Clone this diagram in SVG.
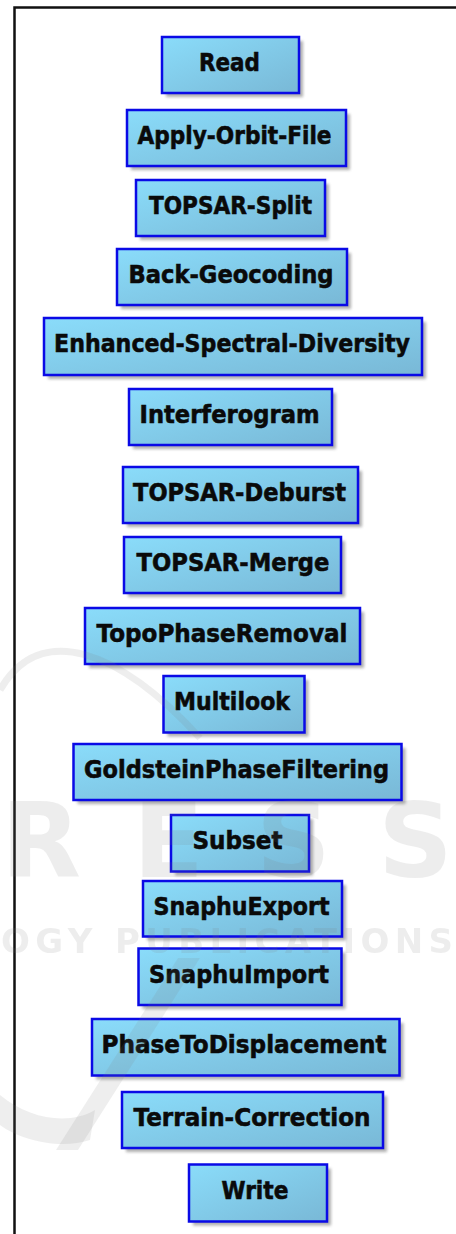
<svg xmlns="http://www.w3.org/2000/svg" width="456" height="1234" viewBox="0 0 456 1234">
  <style>
    .box { fill: url(#nodeFill); stroke: #0a0ae6; stroke-width: 2.5; }
    .shadow { fill: #6e6e6e; opacity: 0.55; filter: url(#soft); }
    .label { font-family: "DejaVu Sans", "Liberation Sans", sans-serif; font-weight: bold; font-size: 25px; fill: #0a0a0a; stroke: #0a0a0a; stroke-width: 0.6; text-anchor: middle; }
    .frame { stroke: #111; stroke-width: 2.5; fill: none; }
    .wm { fill: #7a7a7a; opacity: 0.13; }
    .wmText { font-family: "DejaVu Sans", "Liberation Sans", sans-serif; font-weight: bold; fill: #7a7a7a; opacity: 0.13; }
  </style>
  <defs>
    <linearGradient id="nodeFill" x1="0" y1="0" x2="1" y2="1">
      <stop offset="0" stop-color="#8adcfa"/>
      <stop offset="1" stop-color="#79b8d6"/>
    </linearGradient>
    <filter id="soft" x="-10%" y="-20%" width="120%" height="140%">
      <feGaussianBlur stdDeviation="1.6"/>
    </filter>
  </defs>

  <rect width="456" height="1234" fill="#ffffff"/>

  <!-- panel border: top and left edges -->
  <path class="frame" d="M14.5 1234 V7.5 H456"/>

  <g id="connectors"/>

  <g id="n-read">
    <rect class="shadow" x="166" y="41" width="137" height="56"/>
    <rect class="box" x="162" y="37" width="137" height="56"/>
    <text class="label" x="229.5" y="71" textLength="61" lengthAdjust="spacingAndGlyphs">Read</text>
  </g>
  <g id="n-apply-orbit">
    <rect class="shadow" x="131" y="114" width="219" height="56"/>
    <rect class="box" x="127" y="110" width="219" height="56"/>
    <text class="label" x="234.5" y="144" textLength="194" lengthAdjust="spacingAndGlyphs">Apply-Orbit-File</text>
  </g>
  <g id="n-split">
    <rect class="shadow" x="140" y="184" width="189" height="56"/>
    <rect class="box" x="136" y="180" width="189" height="56"/>
    <text class="label" x="230.5" y="214" textLength="163" lengthAdjust="spacingAndGlyphs">TOPSAR-Split</text>
  </g>
  <g id="n-backgeo">
    <rect class="shadow" x="121" y="253" width="230" height="56"/>
    <rect class="box" x="117" y="249" width="230" height="56"/>
    <text class="label" x="231" y="283" textLength="205" lengthAdjust="spacingAndGlyphs">Back-Geocoding</text>
  </g>
  <g id="n-esd">
    <rect class="shadow" x="48" y="322" width="378" height="57"/>
    <rect class="box" x="44" y="318" width="378" height="57"/>
    <text class="label" x="232" y="352" textLength="356" lengthAdjust="spacingAndGlyphs">Enhanced-Spectral-Diversity</text>
  </g>
  <g id="n-interferogram">
    <rect class="shadow" x="133" y="393" width="203" height="56"/>
    <rect class="box" x="129" y="389" width="203" height="56"/>
    <text class="label" x="229.5" y="423" textLength="180" lengthAdjust="spacingAndGlyphs">Interferogram</text>
  </g>
  <g id="n-deburst">
    <rect class="shadow" x="127" y="471" width="235" height="56"/>
    <rect class="box" x="123" y="467" width="235" height="56"/>
    <text class="label" x="239.5" y="501" textLength="213" lengthAdjust="spacingAndGlyphs">TOPSAR-Deburst</text>
  </g>
  <g id="n-merge">
    <rect class="shadow" x="128" y="541" width="217" height="56"/>
    <rect class="box" x="124" y="537" width="217" height="56"/>
    <text class="label" x="233" y="571" textLength="193" lengthAdjust="spacingAndGlyphs">TOPSAR-Merge</text>
  </g>
  <g id="n-topo">
    <rect class="shadow" x="89" y="612" width="275" height="56"/>
    <rect class="box" x="85" y="608" width="275" height="56"/>
    <text class="label" x="222" y="642" textLength="251" lengthAdjust="spacingAndGlyphs">TopoPhaseRemoval</text>
  </g>
  <g id="n-multilook">
    <rect class="shadow" x="167.5" y="680" width="141" height="56.5"/>
    <rect class="box" x="163.5" y="676" width="141" height="56.5"/>
    <text class="label" x="232" y="710" textLength="116" lengthAdjust="spacingAndGlyphs">Multilook</text>
  </g>
  <g id="n-goldstein">
    <rect class="shadow" x="77.5" y="748" width="328" height="56"/>
    <rect class="box" x="73.5" y="744" width="328" height="56"/>
    <text class="label" x="236.5" y="778" textLength="305" lengthAdjust="spacingAndGlyphs">GoldsteinPhaseFiltering</text>
  </g>
  <g id="n-subset">
    <rect class="shadow" x="175" y="819" width="138" height="56.5"/>
    <rect class="box" x="171" y="815" width="138" height="56.5"/>
    <text class="label" x="237.5" y="849" textLength="90" lengthAdjust="spacingAndGlyphs">Subset</text>
  </g>
  <g id="n-snaphu-export">
    <rect class="shadow" x="147" y="885" width="199" height="55.5"/>
    <rect class="box" x="143" y="881" width="199" height="55.5"/>
    <text class="label" x="241.5" y="915" textLength="176" lengthAdjust="spacingAndGlyphs">SnaphuExport</text>
  </g>
  <g id="n-snaphu-import">
    <rect class="shadow" x="142.5" y="952.5" width="203" height="56.5"/>
    <rect class="box" x="138.5" y="948.5" width="203" height="56.5"/>
    <text class="label" x="239" y="982.5" textLength="180" lengthAdjust="spacingAndGlyphs">SnaphuImport</text>
  </g>
  <g id="n-phase-disp">
    <rect class="shadow" x="96" y="1023" width="307.5" height="56.5"/>
    <rect class="box" x="92" y="1019" width="307.5" height="56.5"/>
    <text class="label" x="244" y="1053" textLength="285" lengthAdjust="spacingAndGlyphs">PhaseToDisplacement</text>
  </g>
  <g id="n-terrain">
    <rect class="shadow" x="126" y="1096" width="261" height="56"/>
    <rect class="box" x="122" y="1092" width="261" height="56"/>
    <text class="label" x="252" y="1126" textLength="237" lengthAdjust="spacingAndGlyphs">Terrain-Correction</text>
  </g>
  <g id="n-write">
    <rect class="shadow" x="193" y="1168.5" width="138" height="57"/>
    <rect class="box" x="189" y="1164.5" width="138" height="57"/>
    <text class="label" x="255" y="1198.5" textLength="67" lengthAdjust="spacingAndGlyphs">Write</text>
  </g>

  <!-- faint publisher watermark laid over the panel -->
  <g id="watermark">
    <path d="M0 690 C 40 620, 120 650, 200 738" fill="none" stroke="#7a7a7a" stroke-opacity="0.13" stroke-width="7"/>
    <path class="wm" d="M178 958 L200 958 L78 1150 L56 1150 Z"/>
    <path class="wm" d="M0 1095 C 30 1120, 70 1125, 95 1110 L90 1140 C 60 1150, 20 1140, 0 1125 Z"/>
    <text class="wmText" x="1" y="877" font-size="104" textLength="452" lengthAdjust="spacing">RESS</text>
    <text class="wmText" x="1" y="953" font-size="34" textLength="452" lengthAdjust="spacing">OGY PUBLICATIONS</text>
  </g>
</svg>
